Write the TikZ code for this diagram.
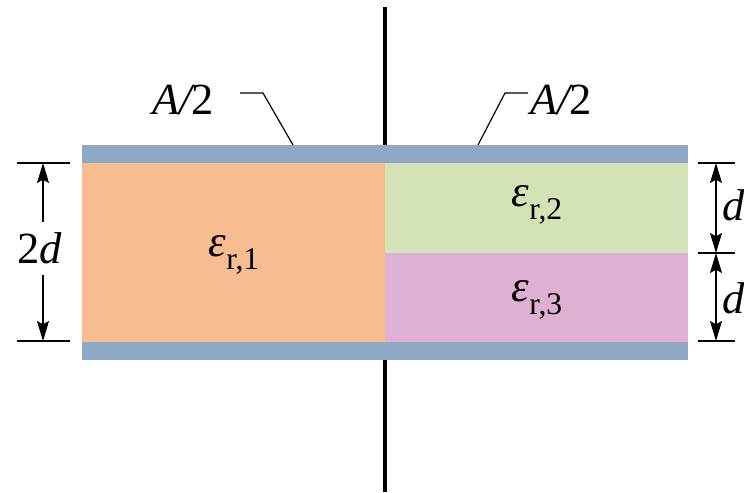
\documentclass[tikz,border=0pt]{standalone}
\usepackage{fontspec}
\setmainfont{Liberation Serif}
\usetikzlibrary{arrows.meta}
\definecolor{platecol}{RGB}{143,168,198}
\definecolor{dielone}{RGB}{247,188,146}
\definecolor{dieltwo}{RGB}{212,226,183}
\definecolor{dielthree}{RGB}{222,176,210}
\newcommand\figfont{\fontsize{38}{40}\selectfont}
\newcommand\epsr[1]{{\itshape ε}\raisebox{-0.28em}{\fontsize{27}{28}\selectfont r,#1}}

\begin{document}
\begin{tikzpicture}[x=0.03cm, y=-0.03cm,
  lbl/.style={font=\figfont, inner sep=0pt},
  dimline/.style={line width=1pt, black},
  tip/.style={-{Stealth[length=0.6cm, width=0.36cm, inset=0.1cm]}},
  dimarrow/.style={line width=1pt, black, tip},
  leader/.style={line width=1pt, black},
]
  \useasboundingbox (0,0) rectangle (744,492);

  % centre wire
  \draw[line width=2.8pt] (385,7) -- (385,492);

  % dielectrics
  \fill[dielone] (82,163) rectangle (385,342);
  \fill[dieltwo] (385,163) rectangle (688,253);
  \fill[dielthree] (385,253) rectangle (688,342);

  % plates
  \fill[platecol] (82,145) rectangle (688,163);
  \fill[platecol] (82,342) rectangle (688,360);

  % permittivities
  \node[lbl] (er1) at (234,255) {\epsr{1}};
  \node[lbl] (er2) at (537,205) {\epsr{2}};
  \node[lbl] (er3) at (537,300) {\epsr{3}};

  % area labels
  \node[lbl] (areaL) at (183,100) {\itshape A/\upshape 2};
  \node[lbl, anchor=west] (areaR) at (530,100) {\itshape A/\upshape 2};
  \coordinate (legL1) at (240,93);
  \coordinate (legL2) at (263,93);
  \coordinate (legL3) at (293,145);
  \draw[leader] (legL1) -- (legL2) -- (legL3);
  \coordinate (legR1) at (478,145);
  \coordinate (legR2) at (505,93);
  \coordinate (legR3) at (528,93);
  \draw[leader] (legR1) -- (legR2) -- (legR3);

  % left dimension 2d
  \coordinate (tL1) at (17,163);
  \coordinate (tL2) at (70,163);
  \coordinate (bL1) at (17,341);
  \coordinate (bL2) at (70,341);
  \draw[dimline] (tL1) -- (tL2);
  \draw[dimline] (bL1) -- (bL2);
  \node[lbl] (twod) at (40,248) {2\itshape d};
  \coordinate (twodT) at (43,222);
  \coordinate (twodB) at (43,275);
  \coordinate (twodTop) at (43,163);
  \coordinate (twodBot) at (43,341);
  \draw[dimarrow] (twodT) -- (twodTop);
  \draw[dimarrow] (twodB) -- (twodBot);

  % right dimensions d, d
  \coordinate (tR1) at (698,163);
  \coordinate (tR2) at (735,163);
  \coordinate (mR1) at (698,253);
  \coordinate (mR2) at (735,253);
  \coordinate (bR1) at (698,341);
  \coordinate (bR2) at (735,341);
  \draw[dimline] (tR1) -- (tR2);
  \draw[dimline] (mR1) -- (mR2);
  \draw[dimline] (bR1) -- (bR2);
  \coordinate (dTop) at (716,163);
  \coordinate (dMid) at (716,253);
  \coordinate (dBot) at (716,341);
  \draw[dimline, {Stealth[length=0.6cm, width=0.36cm, inset=0.1cm]}-{Stealth[length=0.6cm, width=0.36cm, inset=0.1cm]}] (dTop) -- (dMid);
  \draw[dimline, {Stealth[length=0.6cm, width=0.36cm, inset=0.1cm]}-{Stealth[length=0.6cm, width=0.36cm, inset=0.1cm]}] (dMid) -- (dBot);
  \node[lbl, anchor=west] (dup) at (722,205) {\itshape d};
  \node[lbl, anchor=west] (dlow) at (722,298) {\itshape d};
\end{tikzpicture}
\end{document}
